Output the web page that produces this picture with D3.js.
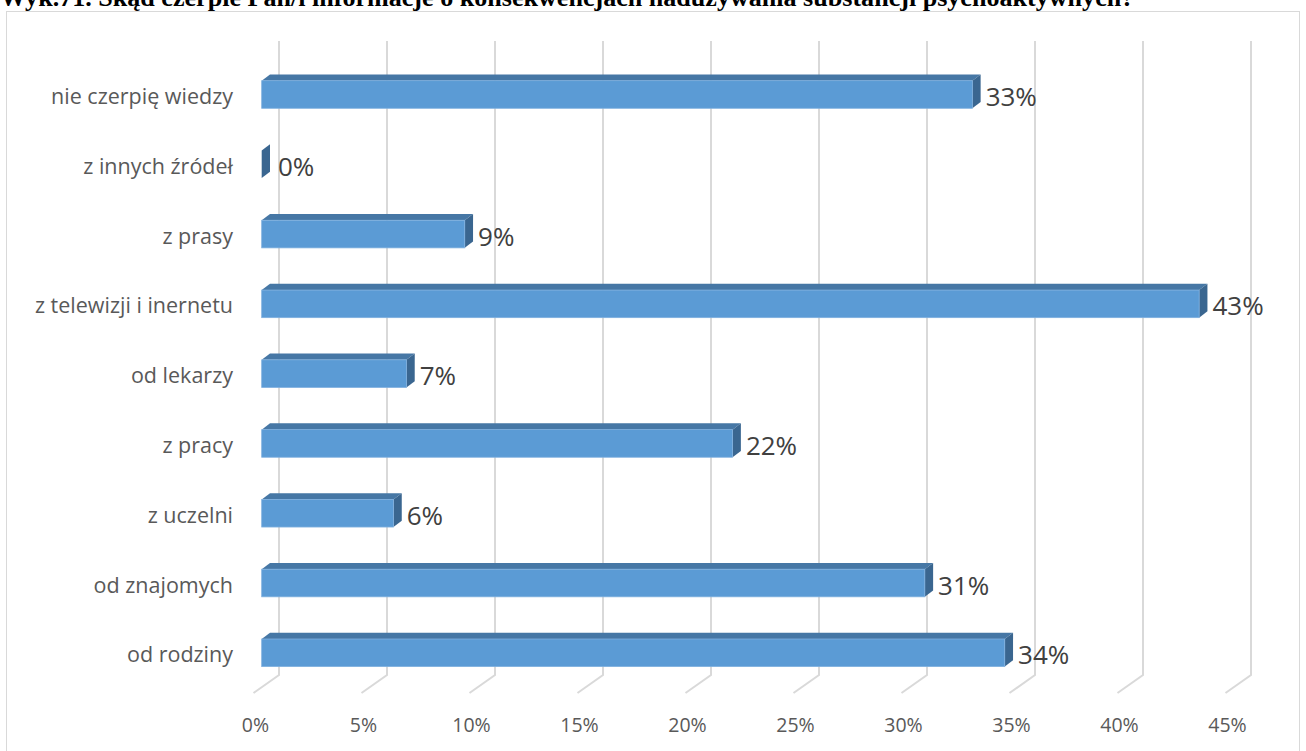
<!DOCTYPE html>
<html><head><meta charset="utf-8">
<script src="https://cdn.jsdelivr.net/npm/d3@7"></script>
<style>html,body{margin:0;padding:0;background:#fff;overflow:hidden}</style>
</head><body>
<svg id="chart" width="1306" height="751"></svg>
<script>
const title = "Wyk.71. Skąd czerpie Pan/i informacje o konsekwencjach nadużywania substancji psychoaktywnych?";
const categories = ["nie czerpię wiedzy","z innych źródeł","z prasy","z telewizji i inernetu","od lekarzy","z pracy","z uczelni","od znajomych","od rodziny"];
const values = [32.9, 0, 9.4, 43.4, 6.7, 21.8, 6.1, 30.7, 34.4];
const tickValues = [0,5,10,15,20,25,30,35,40,45];

const svg = d3.select("#chart");
const font = "'Open Sans', sans-serif";

// chart frame
svg.append("rect").attr("x",6.5).attr("y",11.5).attr("width",1293).attr("height",760)
  .attr("fill","#fff").attr("stroke","#d9d9d9").attr("stroke-width",1);

// title (top clipped as in the reference)
const t = svg.append("text").text(title).attr("x",0).attr("y",6)
  .attr("font-family","'Liberation Serif', 'Times New Roman', serif").attr("font-weight","bold")
  .attr("font-size",19).attr("fill","#000");
const tw = t.node().getComputedTextLength();
t.attr("font-size", 19*1135/tw);

// geometry
const depth = {dx:-25.5, dy:18};     // back wall -> front floor
const barOff = {dx:8.3, dy:-6.3};    // bar front face -> bar back
const xBack = d3.scaleLinear().domain([0,45]).range([279,1251]);
const xFront = d3.scaleLinear().domain([0,45]).range([261.7, 261.7 + (1251-279)]);
const y = d3.scaleBand().domain(categories).range([59.6,687.7]).paddingInner(0.6045).paddingOuter(0.30225);
const wallTop = 41, wallBottom = 675;

// gridlines (back wall + floor diagonals)
const grid = svg.append("g").attr("stroke","#d9d9d9").attr("stroke-width",2).attr("fill","none");
tickValues.forEach(v=>{
  const xb = xBack(v);
  grid.append("path").attr("d",`M${xb},${wallTop}L${xb},${wallBottom}L${xb+depth.dx},${wallBottom+depth.dy}`);
});

// axis tick labels
svg.append("g").selectAll("text").data(tickValues).join("text")
  .attr("x",v=>xBack(v)+depth.dx+2).attr("y",724)
  .attr("text-anchor","middle").attr("dominant-baseline","central")
  .attr("font-family",font).attr("font-size",19.5).attr("fill","#595959")
  .text(v=>v+"%");

// category labels
svg.append("g").selectAll("text").data(categories).join("text")
  .attr("x",233).attr("y",c=>y(c)+y.bandwidth()/2+1)
  .attr("text-anchor","end").attr("dominant-baseline","central")
  .attr("font-family",font).attr("font-size",21.5).attr("fill","#595959")
  .text(c=>c);

// bars
const bars = svg.append("g");
categories.forEach((c,i)=>{
  const v = values[i];
  const x0 = xFront(0), x1 = xFront(v), yt = y(c), h = y.bandwidth();
  const g = bars.append("g");
  g.append("path").attr("d",`M${x0},${yt}L${x0+barOff.dx},${yt+barOff.dy}L${x1+barOff.dx},${yt+barOff.dy}L${x1},${yt}Z`)
    .attr("fill","#4677a5");
  g.append("path").attr("d",`M${x1},${yt}L${x1+barOff.dx},${yt+barOff.dy}L${x1+barOff.dx},${yt+h+barOff.dy}L${x1},${yt+h}Z`)
    .attr("fill","#3a6690");
  if (v>0) g.append("rect").attr("x",x0).attr("y",yt).attr("width",x1-x0).attr("height",h)
    .attr("fill","#5b9bd5").attr("stroke","#7fb0df").attr("stroke-width",0.8);
  g.append("text").attr("x",x1+barOff.dx+5+(v===0?3:0)).attr("y",yt+h/2+1.5)
    .attr("dominant-baseline","central")
    .attr("font-family",font).attr("font-size",26).attr("fill","#404040")
    .text(Math.round(v)+"%");
});
</script>
</body></html>
